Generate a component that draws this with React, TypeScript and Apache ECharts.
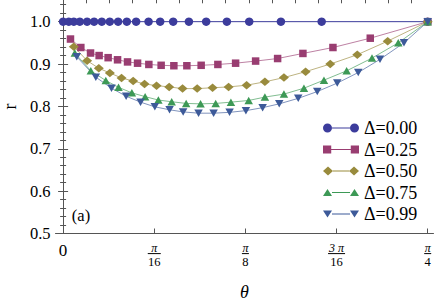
import React, { useEffect, useRef } from 'react';
import * as echarts from 'echarts';

const PI = Math.PI;

const seriesNames = ['Δ=0.00', 'Δ=0.25', 'Δ=0.50', 'Δ=0.75', 'Δ=0.99'];
const seriesColors = ['#3c3c9c', '#993d71', '#998b3d', '#3d9956', '#3d5a99'];

const theta000 = [0, 0.0123, 0.0231, 0.036, 0.0517, 0.0668, 0.0834, 0.1006, 0.1185, 0.1373, 0.1573, 0.1841, 0.2091, 0.2371, 0.271, 0.3082, 0.3528, 0.4009, 0.4692, 0.557, 0.7854];
const r000 = [1, 1, 1, 1, 1, 1, 1, 1, 1, 1, 1, 1, 1, 1, 1, 1, 1, 1, 1, 1, 1];

const theta025 = [0.0159, 0.0382, 0.0591, 0.0776, 0.097, 0.1173, 0.1388, 0.1604, 0.1847, 0.2112, 0.2386, 0.2666, 0.2974, 0.3334, 0.3716, 0.4147, 0.4621, 0.5166, 0.5813, 0.6617, 0.7854];
const r025 = [0.959, 0.939, 0.926, 0.92, 0.915, 0.91, 0.905, 0.902, 0.899, 0.897, 0.896, 0.896, 0.897, 0.899, 0.902, 0.907, 0.913, 0.925, 0.939, 0.961, 1.0];

const theta050 = [0.0231, 0.0517, 0.0769, 0.1007, 0.1259, 0.1509, 0.1754, 0.2013, 0.2285, 0.2573, 0.2888, 0.322, 0.3565, 0.3953, 0.4347, 0.4757, 0.5224, 0.5755, 0.6337, 0.6992, 0.7854];
const r050 = [0.941, 0.908, 0.89, 0.879, 0.867, 0.86, 0.853, 0.849, 0.846, 0.842, 0.842, 0.844, 0.846, 0.85, 0.858, 0.868, 0.882, 0.9, 0.922, 0.954, 1.0];

const theta075 = [0.0252, 0.0597, 0.092, 0.1194, 0.1481, 0.1767, 0.2052, 0.2339, 0.2651, 0.2961, 0.3287, 0.3615, 0.3998, 0.4347, 0.4757, 0.5188, 0.5619, 0.6108, 0.6654, 0.722, 0.7854];
const r075 = [0.926, 0.884, 0.861, 0.845, 0.832, 0.823, 0.815, 0.811, 0.807, 0.806, 0.807, 0.81, 0.814, 0.822, 0.829, 0.843, 0.862, 0.884, 0.914, 0.95, 1.0];

const theta099 = [0.0295, 0.0705, 0.1043, 0.1358, 0.1668, 0.1976, 0.2293, 0.2586, 0.2918, 0.3242, 0.3586, 0.3938, 0.4298, 0.4656, 0.5065, 0.5475, 0.5906, 0.6358, 0.6826, 0.7343, 0.7854];
const r099 = [0.917, 0.869, 0.843, 0.824, 0.81, 0.799, 0.792, 0.787, 0.784, 0.784, 0.786, 0.79, 0.797, 0.806, 0.819, 0.835, 0.855, 0.88, 0.911, 0.95, 1.0];

const thetaSets = [theta000, theta025, theta050, theta075, theta099];
const rSets = [r000, r025, r050, r075, r099];

const xTickValues = [0, PI / 16, PI / 8, (3 * PI) / 16, PI / 4];
const xTickLabels = [
  '{z|0}',
  '{n|π}\n{g| }\n{d|16}',
  '{n|π}\n{g| }\n{d|8}',
  '{n|3 π}\n{g| }\n{d|16}',
  '{n|π}\n{g| }\n{d|4}',
];
// fraction bars under the numerators (tick value, bar width in px)
const fracTickValues = [PI / 16, PI / 8, (3 * PI) / 16, PI / 4];
const fracBarWidths = [13, 7, 17, 7];
const yTickValues = [0.5, 0.6, 0.7, 0.8, 0.9, 1.0];
const topTickValues = [0, 0.05, 0.1, 0.15, 0.2, 0.25, 0.3, 0.35, 0.4, 0.45, 0.5, 0.55, 0.6, 0.65, 0.7, 0.75];

const symbols = ['circle', 'rect', 'diamond', 'triangle', 'path://M0,0L10,0L5,9Z'];
const symbolSizes: any[] = [8.5, 7.5, [10, 8.5], [8.5, 7.5], [8.5, 7.5]];
const legendIcons = [
  'path://M0,4.5A4.5,4.5,0,1,1,9,4.5A4.5,4.5,0,1,1,0,4.5Z M9,4H27V5H9Z M27,4.5A4.5,4.5,0,1,1,36,4.5A4.5,4.5,0,1,1,27,4.5Z',
  'path://M0.5,0.5H8.5V8.5H0.5Z M8.5,4H27.5V5H8.5Z M27.5,0.5H35.5V8.5H27.5Z',
  'path://M0,4.5L5,0L10,4.5L5,9Z M10,4H26V5H10Z M26,4.5L31,0L36,4.5L31,9Z',
  'path://M0,8L4.5,1L9,8Z M9,4H27V5H9Z M27,8L31.5,1L36,8Z',
  'path://M0,1L9,1L4.5,8Z M9,4H27V5H9Z M27,1L36,1L31.5,8Z',
];

const FONT = 'Liberation Serif';
const FRAME = '#555555';
const X_MIN = -0.01638;
const X_MAX = 0.7979;
const Y_MIN = 0.5;

export default function App() {
  const ref = useRef<HTMLDivElement>(null);
  useEffect(() => {
    if (!ref.current) return;
    const chart = echarts.init(ref.current, undefined, { renderer: 'svg' });
    const yBase = {
      type: 'value',
      min: Y_MIN,
      max: 1.1,
      interval: 0.1,
      splitLine: { show: false },
      axisLine: { show: true, lineStyle: { color: FRAME, width: 1 } },
      axisTick: { show: true, inside: true, length: 5, lineStyle: { color: FRAME } },
      minorTick: { show: true, splitNumber: 5, length: 3, lineStyle: { color: FRAME } },
    };
    const lineSeries = seriesNames.map((name, i) => ({
      name,
      type: 'line',
      xAxisIndex: 0,
      yAxisIndex: 0,
      data: thetaSets[i].map((t, k) => [t, rSets[i][k]]),
      symbol: symbols[i],
      symbolSize: symbolSizes[i],
      showAllSymbol: true,
      itemStyle: { color: seriesColors[i] },
      lineStyle: { color: seriesColors[i], width: 1, opacity: i === 0 ? 1 : 0.65 },
      emphasis: { disabled: true },
    }));
    const barSeries = {
      type: 'custom',
      name: 'fractionBars',
      xAxisIndex: 0,
      yAxisIndex: 0,
      clip: false,
      silent: true,
      z: 10,
      data: fracTickValues.map((v, i) => [v, Y_MIN, fracBarWidths[i]]),
      renderItem: (_params: any, api: any) => {
        const p = api.coord([api.value(0), api.value(1)]);
        const w = api.value(2);
        const y = Math.round(p[1] + 19.5);
        return {
          type: 'rect',
          shape: { x: p[0] - w / 2, y: y, width: w, height: 1.1 },
          style: { fill: '#1a1a1a' },
        };
      },
    };
    const option: any = {
      animation: false,
      backgroundColor: '#ffffff',
      textStyle: { fontFamily: FONT },
      grid: { left: 55.5, right: 2.5, top: -20.7, bottom: 66.5, containLabel: false, outerBoundsMode: 'none' },
      xAxis: [
        {
          type: 'value',
          position: 'bottom',
          min: X_MIN,
          max: X_MAX,
          name: 'θ',
          nameLocation: 'middle',
          nameGap: 49,
          nameTextStyle: { fontFamily: FONT, fontSize: 18, fontStyle: 'italic', color: '#000' },
          splitLine: { show: false },
          axisLine: { show: true, onZero: false, lineStyle: { color: FRAME, width: 1 } },
          axisTick: { show: true, inside: true, length: 5, customValues: xTickValues, lineStyle: { color: FRAME } },
          axisLabel: {
            customValues: xTickValues,
            margin: 9.5,
            color: '#000',
            fontFamily: FONT,
            formatter: (v: number) => {
              let best = 0;
              xTickValues.forEach((t, i) => {
                if (Math.abs(t - v) < Math.abs(xTickValues[best] - v)) best = i;
              });
              return xTickLabels[best];
            },
            rich: {
              z: { fontFamily: FONT, fontSize: 17, lineHeight: 14, color: '#000' },
              n: { fontFamily: FONT, fontSize: 12, lineHeight: 9, fontStyle: 'italic', color: '#000' },
              g: { fontFamily: FONT, fontSize: 4, lineHeight: 4, color: '#000' },
              d: { fontFamily: FONT, fontSize: 12.5, lineHeight: 12, color: '#000' },
            },
          },
        },
        {
          type: 'value',
          position: 'top',
          offset: -20,
          min: X_MIN,
          max: X_MAX,
          splitLine: { show: false },
          axisLine: { show: true, onZero: false, lineStyle: { color: FRAME, width: 1 } },
          axisTick: { show: true, inside: true, length: 4, customValues: topTickValues, lineStyle: { color: FRAME } },
          axisLabel: { show: false },
        },
      ],
      yAxis: [
        {
          ...yBase,
          position: 'left',
          name: 'r',
          nameLocation: 'middle',
          nameRotate: 90,
          nameGap: 37,
          nameTextStyle: { fontFamily: FONT, fontSize: 18, color: '#000' },
          axisLabel: {
            customValues: yTickValues,
            margin: 5,
            fontFamily: FONT,
            fontSize: 16.5,
            color: '#000',
            formatter: (v: number) => v.toFixed(1),
          },
        },
        {
          ...yBase,
          position: 'right',
          axisLabel: { show: false },
        },
      ],
      legend: {
        orient: 'vertical',
        left: 323,
        top: 119,
        itemWidth: 36,
        itemHeight: 9,
        itemGap: 3.5,
        padding: 0,
        textStyle: { fontFamily: FONT, fontSize: 18, lineHeight: 18, color: '#000' },
        data: seriesNames.map((n, i) => ({ name: n, icon: legendIcons[i] })),
      },
      graphic: [
        {
          type: 'text',
          x: 81,
          y: 215,
          style: { text: '(a)', font: '16.5px Liberation Serif', fill: '#000', align: 'center', verticalAlign: 'middle' },
        },
      ],
      series: [...lineSeries, barSeries],
    };
    chart.setOption(option);
    return () => chart.dispose();
  }, []);
  return <div ref={ref} style={{ width: 436, height: 300, position: 'absolute', left: 0, top: 0 }} />;
}
